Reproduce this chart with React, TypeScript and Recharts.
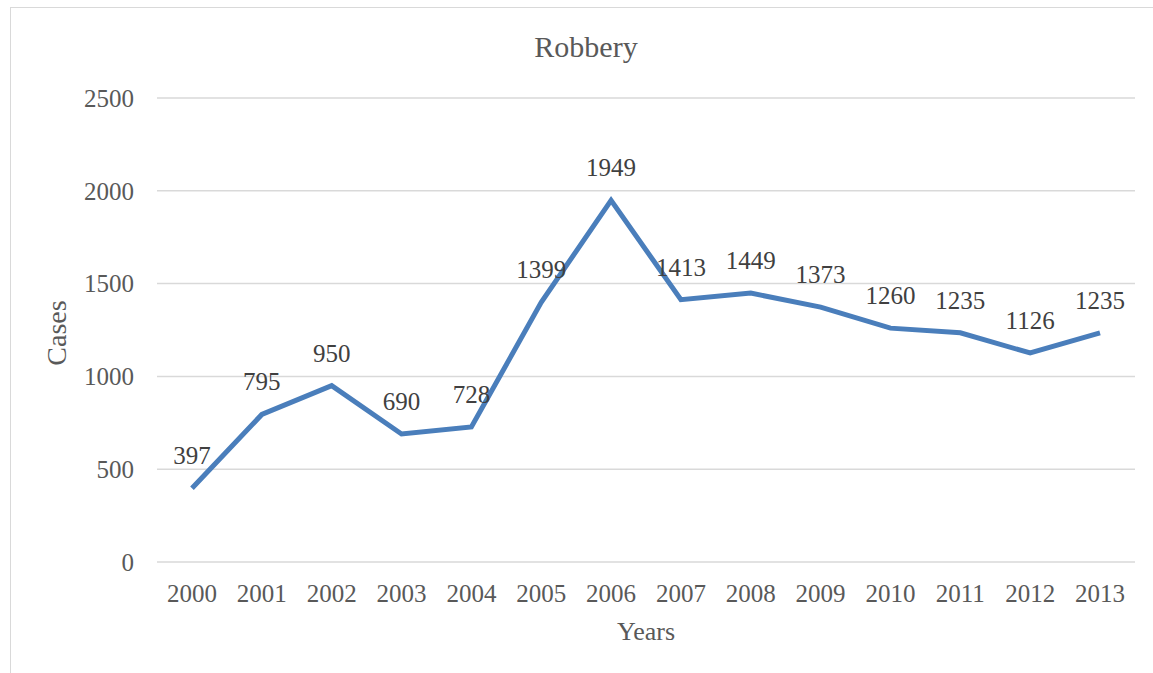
import { CartesianGrid, LabelList, Line, LineChart, XAxis, YAxis } from "recharts";

// Robbery cases per year
const years = ["2000", "2001", "2002", "2003", "2004", "2005", "2006", "2007", "2008", "2009", "2010", "2011", "2012", "2013"];
const cases = [397, 795, 950, 690, 728, 1399, 1949, 1413, 1449, 1373, 1260, 1235, 1126, 1235];
const yTicks = [0, 500, 1000, 1500, 2000, 2500];

const data = years.map((year, i) => ({ year, cases: cases[i] }));

const FONT = "'Liberation Serif', 'Times New Roman', serif";
const TICK_COLOR = "#595959";
const LINE_COLOR = "#4A7EBB";

export default function App() {
  return (
    <div
      style={{
        position: "absolute",
        left: 0,
        top: 0,
        width: 1153,
        height: 673,
        overflow: "hidden",
        background: "#fff",
        fontFamily: FONT,
      }}
    >
      {/* chart frame, runs off the right and bottom edges like the source */}
      <div
        style={{
          position: "absolute",
          left: 10,
          top: 7,
          width: 1200,
          height: 720,
          border: "1.5px solid #d9d9d9",
        }}
      />
      <LineChart
        width={1153}
        height={673}
        data={data}
        margin={{ top: 98, right: 18, bottom: 81, left: 57 }}
        style={{ position: "absolute", left: 0, top: 0 }}
      >
        <CartesianGrid vertical={false} stroke="#d9d9d9" strokeWidth={1.5} />
        <XAxis
          dataKey="year"
          axisLine={false}
          tickLine={false}
          height={30}
          tickMargin={16}
          interval={0}
          padding={{ left: 35, right: 35 }}
          tick={{ fill: TICK_COLOR, fontSize: 25, fontFamily: FONT }}
        />
        <YAxis
          domain={[0, 2500]}
          ticks={yTicks}
          width={100}
          axisLine={false}
          tickLine={false}
          tickMargin={17}
          tick={{ fill: TICK_COLOR, fontSize: 25, fontFamily: FONT }}
        />
        <Line
          type="linear"
          dataKey="cases"
          stroke={LINE_COLOR}
          strokeWidth={5}
          dot={false}
          isAnimationActive={false}
        >
          <LabelList
            dataKey="cases"
            position="top"
            offset={24}
            fill="#404040"
            fontSize={25}
            fontFamily={FONT}
          />
        </Line>
      </LineChart>
      <svg
        width={1153}
        height={673}
        style={{ position: "absolute", left: 0, top: 0, pointerEvents: "none" }}
      >
        <text x={586} y={57} textAnchor="middle" fill={TICK_COLOR} fontSize={30} fontFamily={FONT}>
          Robbery
        </text>
        <text x={646} y={640} textAnchor="middle" fill={TICK_COLOR} fontSize={26} fontFamily={FONT}>
          Years
        </text>
        <text
          x={66}
          y={333}
          textAnchor="middle"
          fill={TICK_COLOR}
          fontSize={28}
          fontFamily={FONT}
          transform="rotate(-90 66 333)"
        >
          Cases
        </text>
      </svg>
    </div>
  );
}
